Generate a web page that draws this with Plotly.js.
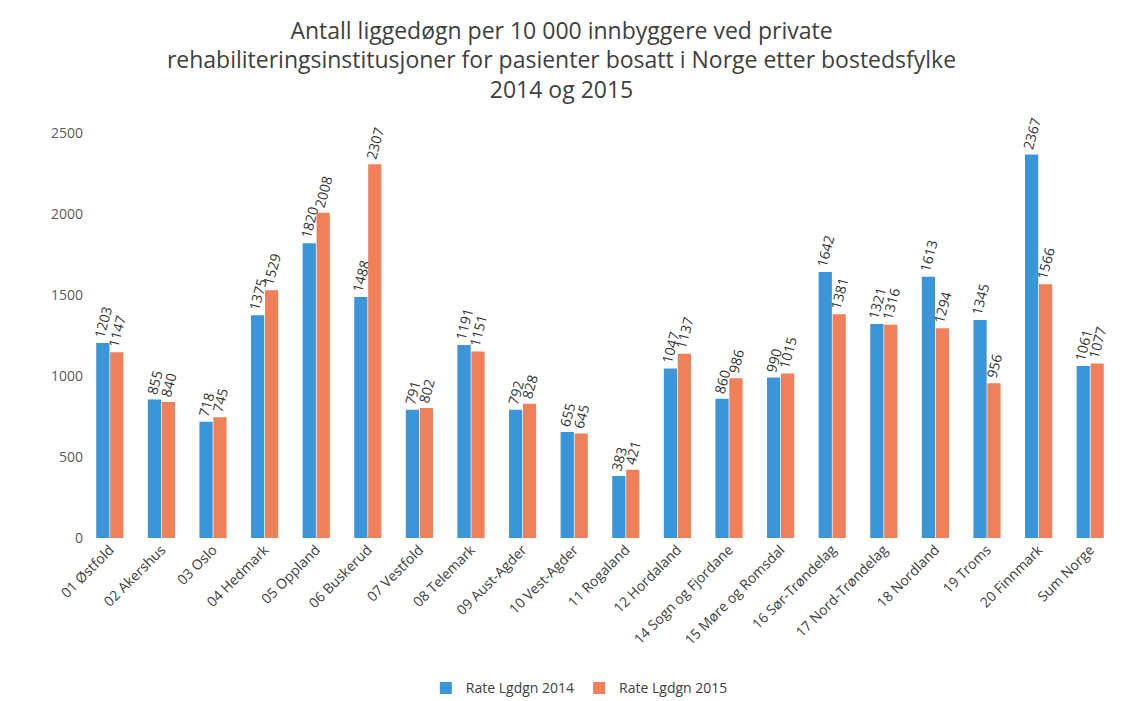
<!DOCTYPE html>
<html>
<head>
<meta charset="utf-8">
<script src="https://cdn.plot.ly/plotly-3.0.1.min.js"></script>
<style>
  html, body { margin: 0; padding: 0; background: #fff; }
  #chart { width: 1123px; height: 701px; }
</style>
</head>
<body>
<div id="chart"></div>
<script>
const fylker = [
  "01 Østfold", "02 Akershus", "03 Oslo", "04 Hedmark", "05 Oppland",
  "06 Buskerud", "07 Vestfold", "08 Telemark", "09 Aust-Agder", "10 Vest-Agder",
  "11 Rogaland", "12 Hordaland", "14 Sogn og Fjordane", "15 Møre og Romsdal", "16 Sør-Trøndelag",
  "17 Nord-Trøndelag", "18 Nordland", "19 Troms", "20 Finnmark", "Sum Norge"
];
const rate2014 = [1203, 855, 718, 1375, 1820, 1488, 791, 1191, 792, 655, 383, 1047, 860, 990, 1642, 1321, 1613, 1345, 2367, 1061];
const rate2015 = [1147, 840, 745, 1529, 2008, 2307, 802, 1151, 828, 645, 421, 1137, 986, 1015, 1381, 1316, 1294, 956, 1566, 1077];
const yTicks = [0, 500, 1000, 1500, 2000, 2500];

const labelFont = { family: "Open Sans, Liberation Sans, sans-serif", size: 14, color: "#333333" };

const traces = [
  {
    type: "bar", name: "Rate Lgdgn 2014", x: fylker, y: rate2014,
    marker: { color: "#3a96d8" },
    text: rate2014.map(String), textposition: "outside", textangle: -75,
    constraintext: "none", textfont: labelFont, cliponaxis: false
  },
  {
    type: "bar", name: "Rate Lgdgn 2015", x: fylker, y: rate2015,
    marker: { color: "#f0805a" },
    text: rate2015.map(String), textposition: "outside", textangle: -75,
    constraintext: "none", textfont: labelFont, cliponaxis: false
  }
];

const layout = {
  width: 1123, height: 701,
  paper_bgcolor: "#ffffff", plot_bgcolor: "#ffffff",
  font: { family: "Open Sans, Liberation Sans, sans-serif", color: "#404040" },
  title: {
    text: "Antall liggedøgn per 10 000 innbyggere ved private<br>rehabiliteringsinstitusjoner for pasienter bosatt i Norge etter bostedsfylke<br>2014 og 2015",
    font: { size: 23, color: "#404040" },
    x: 0.5, xanchor: "center", yref: "container", y: 0.945, yanchor: "top"
  },
  margin: { l: 84, r: 7, t: 133, b: 163 },
  barmode: "group", bargap: 0.46, bargroupgap: 0.05,
  xaxis: {
    tickangle: -45, showline: false, ticks: "",
    tickfont: { size: 14, color: "#404040" }
  },
  yaxis: {
    range: [0, 2500], tickvals: yTicks, showgrid: false, zeroline: false,
    showline: false, ticks: "", tickfont: { size: 14, color: "#595959" }
  },
  legend: {
    orientation: "h", x: 0.48, xanchor: "center",
    yref: "container", y: 0.018, yanchor: "middle",
    font: { size: 14, color: "#404040" }
  },
  showlegend: true
};

Plotly.newPlot("chart", traces, layout, { displayModeBar: false, staticPlot: true });
</script>
</body>
</html>
